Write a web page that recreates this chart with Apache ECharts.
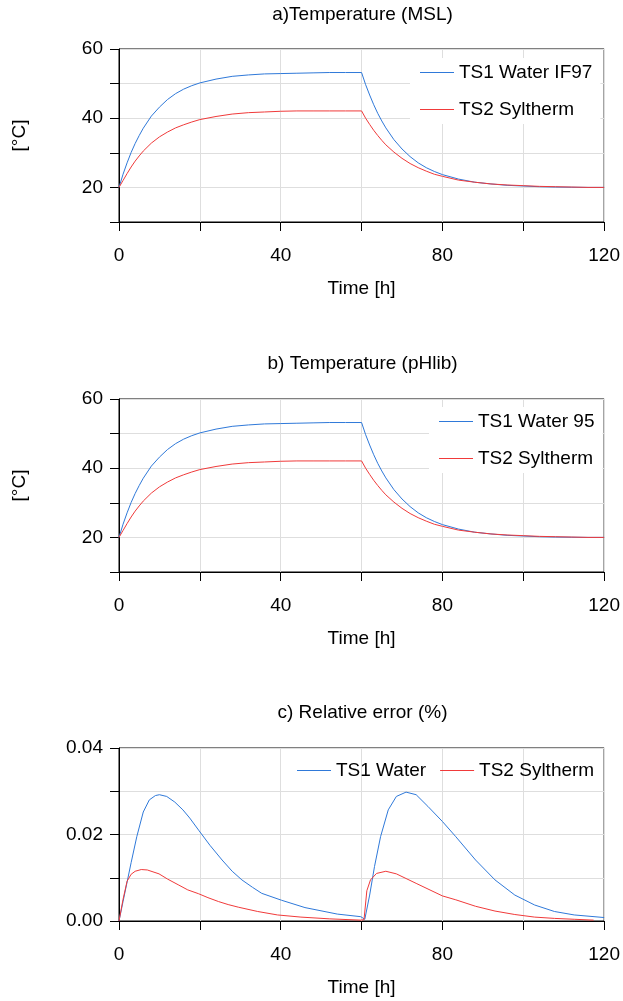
<!DOCTYPE html>
<html>
<head>
<meta charset="utf-8">
<script src="https://cdn.jsdelivr.net/npm/echarts@6/dist/echarts.min.js"></script>
<style>
html,body{margin:0;padding:0;background:#fff;}
#chart{width:623px;height:1001px;}
</style>
</head>
<body>
<div id="chart"></div>
<script>
// ---- data ----
const timeTemp = [0,1,2,3,4,5,6,8,10,12,14,16,18,20,24,28,32,36,40,44,48,52,56,60,61,62,63,64,65,66,68,70,72,74,76,78,80,84,88,92,96,100,104,108,112,116,120];
const ts1Water = [20,23.8,27.1,30.1,32.7,35.0,37.1,40.6,43.2,45.4,47.1,48.4,49.4,50.2,51.3,52.1,52.5,52.8,52.9,53.0,53.1,53.2,53.2,53.2,49.7,46.7,43.9,41.4,39.2,37.2,33.8,31.1,28.9,27.1,25.7,24.6,23.7,22.4,21.5,21.0,20.6,20.4,20.2,20.1,20.05,20.0,20.0];
const ts2Syltherm = [20,22.0,24.0,25.9,27.6,29.1,30.5,32.8,34.6,36.0,37.2,38.1,38.9,39.6,40.5,41.2,41.6,41.8,42.0,42.1,42.1,42.1,42.1,42.1,40.0,38.2,36.5,35.0,33.6,32.3,30.2,28.4,26.9,25.7,24.7,23.8,23.2,22.1,21.5,21.0,20.7,20.5,20.3,20.2,20.1,20.0,20.0];
const ts1WaterPH = ts1Water.slice();
const ts2SylthermPH = ts2Syltherm.slice();

const timeErrWater = [0,1,2,3,4.4,6,7.5,9,10,11.8,13.8,15.8,17.5,19.7,22.5,25.5,28,30.4,33,35.3,40.2,46,54,59.8,60.8,62,63.2,64.7,66.6,68.6,71,73.5,76.4,80,83.3,88.2,93,97.9,102.8,107.7,112.6,120];
const errWater = [0,0.0045,0.009,0.0135,0.0195,0.0252,0.028,0.029,0.0292,0.0288,0.0275,0.0257,0.0238,0.021,0.0175,0.0141,0.0115,0.0095,0.0078,0.0064,0.0048,0.0031,0.0016,0.0010,0.0004,0.006,0.0126,0.0195,0.0257,0.0288,0.0298,0.0292,0.0265,0.023,0.0195,0.0141,0.0095,0.006,0.0037,0.0022,0.0014,0.0008];
const timeErrSyl = [0,1,2,3,4,5.5,7,9.9,12,14.8,17,19.7,22,24.6,27,29.5,34.3,39.2,45,52,59.8,60.6,61.3,62.2,63.7,66,68.6,73.5,80,83.3,88.2,93,97.9,102.8,107.7,112.6,117.4];
const errSyl = [0,0.005,0.0092,0.0108,0.0115,0.0119,0.0118,0.0109,0.0097,0.0083,0.0072,0.0063,0.0054,0.0045,0.0038,0.0032,0.0022,0.0014,0.0009,0.0005,0.0002,0.0003,0.0070,0.0095,0.0110,0.0115,0.0109,0.0087,0.0058,0.0049,0.0034,0.0023,0.0015,0.0009,0.0006,0.0004,0.0002];

const titles = ['a)Temperature (MSL)', 'b) Temperature (pHlib)', 'c) Relative error (%)'];
const legendA = ['TS1 Water IF97', 'TS2 Syltherm'];
const legendB = ['TS1 Water 95', 'TS2 Syltherm'];
const legendC = ['TS1 Water', 'TS2 Syltherm'];
const xLabels = [0, 40, 80, 120];
const tempLabels = [20, 40, 60];
const errLabels = [0, 0.02, 0.04];

// ---- chart ----
const FONT = 'Liberation Sans';
const FS = 19;
const BLUE = '#2f79d9';
const RED = '#f03a3a';
const GRIDC = '#dedede';

function pairs(xs, ys){ return xs.map((x,i)=>[x, ys[i]]); }
function isIn(v, list){ return list.some(l => Math.abs(v - l) < 1e-9); }

const grids = [
  {left:119, right:16, top:49, height:173},
  {left:119, right:16, top:399, height:173},
  {left:119, right:16, top:748, height:173}
].map(g => Object.assign(g, {show:true, borderColor:'#000', borderWidth:1, backgroundColor:'transparent'}));

function xAxis(i){
  return {
    type:'value', gridIndex:i, min:0, max:120, interval:20,
    name:'Time [h]', nameLocation:'middle', nameGap:57,
    nameTextStyle:{fontFamily:FONT, fontSize:FS, color:'#000'},
    axisLine:{show:true, lineStyle:{color:'#000', width:1}},
    axisTick:{show:true, inside:false, length:9, lineStyle:{color:'#000', width:1}},
    axisLabel:{margin:24, fontFamily:FONT, fontSize:FS, color:'#000',
      formatter: v => isIn(v, xLabels) ? String(v) : ''},
    splitLine:{show:true, lineStyle:{color:GRIDC, width:1}}
  };
}
function yAxisTemp(i){
  return {
    type:'value', gridIndex:i, min:10, max:60, interval:10,
    name:'[°C]', nameLocation:'middle', nameGap:90, nameRotate:90,
    nameTextStyle:{fontFamily:FONT, fontSize:FS, color:'#000'},
    axisLine:{show:true, lineStyle:{color:'#000', width:1}},
    axisTick:{show:true, inside:false, length:9, lineStyle:{color:'#000', width:1}},
    axisLabel:{margin:16, fontFamily:FONT, fontSize:FS, color:'#000',
      formatter: v => isIn(v, tempLabels) ? String(v) : ''},
    splitLine:{show:true, lineStyle:{color:GRIDC, width:1}}
  };
}
function yAxisErr(i){
  return {
    type:'value', gridIndex:i, min:0, max:0.04, interval:0.01,
    axisLine:{show:true, lineStyle:{color:'#000', width:1}},
    axisTick:{show:true, inside:false, length:9, lineStyle:{color:'#000', width:1}},
    axisLabel:{margin:16, fontFamily:FONT, fontSize:FS, color:'#000',
      formatter: v => isIn(v, errLabels) ? v.toFixed(2) : ''},
    splitLine:{show:true, lineStyle:{color:GRIDC, width:1}}
  };
}
function line(name, xi, data, color){
  return {type:'line', name:name, xAxisIndex:xi, yAxisIndex:xi, data:data,
    symbol:'none', showSymbol:false, lineStyle:{color:color, width:1}, itemStyle:{color:color},
    animation:false, silent:true, z:3};
}
function title(text, y){
  return {text:text, left:362.5, top:y, textAlign:'center', padding:0,
    textStyle:{fontFamily:FONT, fontSize:FS, fontWeight:'normal', color:'#000'}};
}
const legendText = {fontFamily:FONT, fontSize:FS, color:'#000'};
const legendCommon = {icon:'rect', itemWidth:34, itemHeight:1.2, textStyle:legendText, selectedMode:false};

const option = {
  animation:false,
  backgroundColor:'#fff',
  title:[title(titles[0], 5), title(titles[1], 354), title(titles[2], 703)],
  grid:grids,
  xAxis:[xAxis(0), xAxis(1), xAxis(2)],
  yAxis:[yAxisTemp(0), yAxisTemp(1), yAxisErr(2)],
  legend:[
    Object.assign({data:[{name:legendA[0]}, {name:legendA[1]}], orient:'vertical', left:410, top:58, padding:[5,8,5,10],
     itemGap:18, backgroundColor:'#fff'}, legendCommon),
    Object.assign({data:[{name:legendB[0]}, {name:legendB[1] + ' '}], orient:'vertical', left:429, top:407, padding:[5,8,5,10],
     itemGap:18, backgroundColor:'#fff'}, legendCommon),
    Object.assign({data:[{name:legendC[0]}, {name:legendC[1] + '  '}], orient:'horizontal', left:297, top:761, padding:0,
     itemGap:14}, legendCommon)
  ],
  series:[
    line(legendA[0], 0, pairs(timeTemp, ts1Water), BLUE),
    line(legendA[1], 0, pairs(timeTemp, ts2Syltherm), RED),
    line(legendB[0], 1, pairs(timeTemp, ts1WaterPH), BLUE),
    line(legendB[1] + ' ', 1, pairs(timeTemp, ts2SylthermPH), RED),
    line(legendC[0], 2, pairs(timeErrWater, errWater), BLUE),
    line(legendC[1] + '  ', 2, pairs(timeErrSyl, errSyl), RED)
  ]
};
option.legend.forEach(l => { l.formatter = n => n.trim(); });

const chart = echarts.init(document.getElementById('chart'), null, {renderer:'canvas'});
chart.setOption(option);
</script>
</body>
</html>
